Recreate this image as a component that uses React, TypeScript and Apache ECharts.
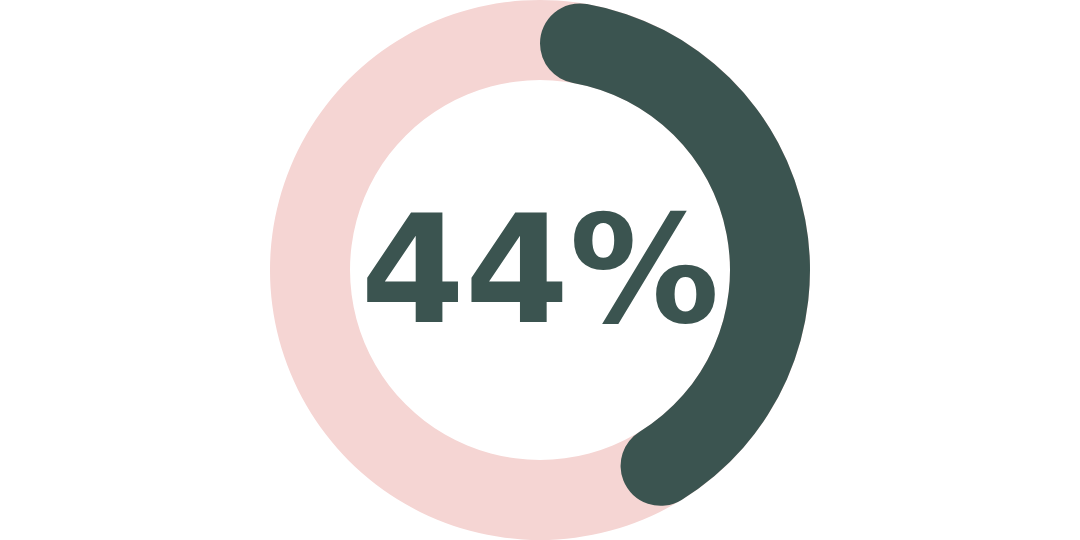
import React, { useEffect, useRef } from 'react';
import * as echarts from 'echarts';

const progressValue = [44];
const restValue = [56];
const labelText = ['44%'];
const ringColors = ['#3b5450', '#f5d5d3'];

const App = () => {
  const chartRef = useRef<HTMLDivElement>(null);

  useEffect(() => {
    document.body.style.margin = '0';
    if (!chartRef.current) return;
    const myChart = echarts.init(chartRef.current, null, { renderer: 'svg' });

    const option: echarts.EChartsOption = {
      animation: false,
      graphic: [
        {
          type: 'text',
          left: 'center',
          top: 'middle',
          style: {
            text: labelText[0],
            fill: ringColors[0],
            fontSize: 150,
            fontWeight: 'bold',
            fontFamily: 'DejaVu Sans',
          },
        },
      ],
      series: [
        {
          // pink background ring
          type: 'pie',
          center: ['50%', '50%'],
          radius: [190, 270],
          silent: true,
          label: { show: false },
          labelLine: { show: false },
          data: [{ value: 100, itemStyle: { color: ringColors[1] } }],
        },
        {
          // progress arc with rounded ends inside the span
          type: 'pie',
          center: ['50%', '50%'],
          radius: [190, 270],
          startAngle: 90,
          clockwise: true,
          silent: true,
          label: { show: false },
          labelLine: { show: false },
          itemStyle: { borderRadius: 40 },
          data: [
            { value: progressValue[0], itemStyle: { color: ringColors[0] } },
            { value: restValue[0], itemStyle: { color: 'transparent' } },
          ],
        },
      ],
    };

    myChart.setOption(option);
    return () => {
      myChart.dispose();
    };
  }, []);

  return <div ref={chartRef} style={{ width: '1080px', height: '540px' }} />;
};

export default App;
